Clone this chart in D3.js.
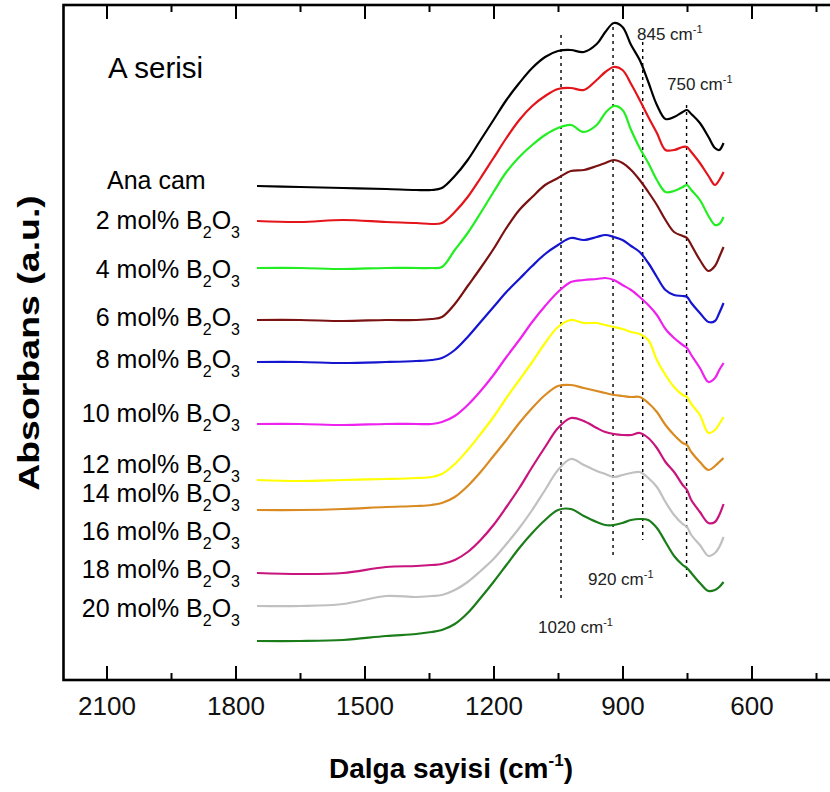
<!DOCTYPE html>
<html lang="en">
<head>
<meta charset="utf-8">
<title>A serisi - FTIR</title>
<script src="https://d3js.org/d3.v7.min.js"></script>
<style>
    body { margin: 0; background: #fff; }
    svg { display: block; font-family: "Liberation Sans", Arial, sans-serif; }
    .frame { fill: none; stroke: #000; stroke-width: 2.6px; }
    .spectrum { fill: none; stroke-width: 2.2px; stroke-linejoin: round; }
    .band { stroke: #000; stroke-width: 1.4px; stroke-dasharray: 3, 4; }
    .axis line { stroke: #000; stroke-width: 2px; }
    .axis path { display: none; }
    .axis text { font-family: "Liberation Sans Narrow", "Arial Narrow", sans-serif; font-size: 26px; fill: #111; }
</style>
</head>
<body>
<svg width="830" height="792"></svg>
<script>
// wavenumber grid (cm-1) shared by all spectra
var wavenumbers = [1750, 1650, 1550, 1450, 1380, 1344, 1320, 1290, 1260, 1230, 1200, 1170, 1140, 1110, 1080, 1050,
    1020, 990, 960, 940, 920, 900, 880, 860, 840, 820, 800, 780, 760, 750, 740, 720, 700, 685, 675, 665];

// absorbance (a.u., stacked as in the figure)
var anaCam = [4.94, 4.93, 4.92, 4.91, 4.90, 4.90, 4.92, 5.04, 5.20, 5.40, 5.60, 5.80, 5.97, 6.12, 6.23, 6.29,
    6.30, 6.28, 6.36, 6.48, 6.57, 6.53, 6.35, 6.20, 5.98, 5.75, 5.61, 5.63, 5.68, 5.70, 5.66, 5.57, 5.43, 5.32, 5.30, 5.37];
var mol2 = [4.59, 4.58, 4.60, 4.58, 4.57, 4.56, 4.57, 4.68, 4.83, 5.02, 5.22, 5.42, 5.60, 5.74, 5.84, 5.91,
    5.92, 5.90, 6.00, 6.08, 6.13, 6.10, 5.96, 5.80, 5.63, 5.47, 5.30, 5.30, 5.33, 5.33, 5.28, 5.17, 5.04, 4.95, 5.00, 5.08];
var mol4 = [4.12, 4.12, 4.11, 4.12, 4.12, 4.12, 4.13, 4.30, 4.47, 4.67, 4.88, 5.08, 5.23, 5.35, 5.45, 5.52,
    5.55, 5.48, 5.55, 5.67, 5.74, 5.70, 5.50, 5.32, 5.17, 5.00, 4.88, 4.89, 4.93, 4.95, 4.90, 4.80, 4.64, 4.55, 4.56, 4.63];
var mol6 = [3.60, 3.60, 3.59, 3.60, 3.60, 3.61, 3.63, 3.76, 3.94, 4.12, 4.31, 4.52, 4.70, 4.83, 4.95, 5.02,
    5.09, 5.10, 5.14, 5.17, 5.20, 5.17, 5.10, 5.00, 4.88, 4.75, 4.60, 4.48, 4.44, 4.42, 4.35, 4.20, 4.09, 4.14, 4.23, 4.33];
var mol8 = [3.18, 3.18, 3.17, 3.18, 3.19, 3.20, 3.22, 3.30, 3.43, 3.58, 3.73, 3.88, 4.01, 4.14, 4.26, 4.35,
    4.42, 4.40, 4.43, 4.45, 4.43, 4.40, 4.34, 4.28, 4.17, 4.03, 3.90, 3.85, 3.84, 3.83, 3.77, 3.67, 3.58, 3.59, 3.67, 3.77];
var mol10 = [2.56, 2.56, 2.55, 2.56, 2.56, 2.56, 2.58, 2.64, 2.75, 2.89, 3.05, 3.23, 3.40, 3.58, 3.74, 3.88,
    3.98, 4.00, 4.01, 4.02, 4.00, 3.95, 3.90, 3.83, 3.75, 3.65, 3.51, 3.42, 3.35, 3.32, 3.25, 3.12, 2.98, 3.02, 3.10, 3.17];
var mol12 = [2.00, 1.99, 2.00, 2.01, 2.02, 2.03, 2.06, 2.16, 2.30, 2.46, 2.63, 2.82, 3.00, 3.18, 3.37, 3.53,
    3.60, 3.57, 3.57, 3.55, 3.53, 3.51, 3.48, 3.46, 3.40, 3.20, 3.05, 2.93, 2.85, 2.83, 2.76, 2.65, 2.47, 2.50, 2.56, 2.63];
var mol14 = [1.70, 1.70, 1.71, 1.73, 1.74, 1.75, 1.77, 1.83, 1.94, 2.08, 2.24, 2.40, 2.57, 2.72, 2.85, 2.94,
    2.95, 2.92, 2.89, 2.87, 2.85, 2.84, 2.83, 2.83, 2.77, 2.68, 2.55, 2.45, 2.37, 2.35, 2.28, 2.18, 2.10, 2.14, 2.18, 2.22];
var mol16 = [1.07, 1.06, 1.07, 1.13, 1.14, 1.15, 1.16, 1.20, 1.28, 1.40, 1.55, 1.73, 1.92, 2.13, 2.33, 2.52,
    2.62, 2.59, 2.52, 2.48, 2.46, 2.45, 2.45, 2.47, 2.42, 2.32, 2.18, 2.08, 1.95, 1.90, 1.80, 1.68, 1.57, 1.58, 1.65, 1.76];
var mol18 = [0.74, 0.74, 0.76, 0.84, 0.83, 0.84, 0.85, 0.90, 0.98, 1.09, 1.21, 1.36, 1.52, 1.70, 1.90, 2.10,
    2.21, 2.15, 2.09, 2.06, 2.03, 2.05, 2.07, 2.08, 2.02, 1.93, 1.78, 1.65, 1.56, 1.53, 1.45, 1.35, 1.24, 1.27, 1.33, 1.43];
var mol20 = [0.39, 0.39, 0.40, 0.44, 0.46, 0.48, 0.50, 0.56, 0.67, 0.82, 0.98, 1.15, 1.32, 1.47, 1.60, 1.70,
    1.71, 1.64, 1.58, 1.55, 1.55, 1.57, 1.60, 1.61, 1.60, 1.52, 1.38, 1.24, 1.15, 1.12, 1.07, 0.97, 0.89, 0.90, 0.93, 0.98];

var seriesNames = ["Ana cam", "2", "4", "6", "8", "10", "12", "14", "16", "18", "20"];
var seriesValues = [anaCam, mol2, mol4, mol6, mol8, mol10, mol12, mol14, mol16, mol18, mol20];
var seriesColors = ["#000000", "#e4141b", "#22ee22", "#7a1212", "#1515d0", "#ee22ee",
    "#ffff00", "#d98a20", "#c8147c", "#c0c0c0", "#1a7d1a"];

// marked bands: label and where the dotted guide sits
var bandLabels = ["1020", "920", "845", "750"];
var bandPositions = [1043, 922, 853, 751];
var bandTop = [6.45, 6.53, 6.38, 5.75];
var bandBottom = [0.80, 1.22, 1.40, 1.03];

var majorTicks = [2100, 1800, 1500, 1200, 900, 600];
var minorTicks = [1950, 1650, 1350, 1050, 750, 450];

var svg = d3.select("svg");

var x = d3.scaleLinear().domain([2200, 400]).range([63.5, 837.5]);
var y = d3.scaleLinear().domain([0, 6.75]).range([680, 5]);

// ticks, pointing inwards on top and bottom
svg.append("g").attr("class", "axis").attr("transform", "translate(0,680)")
    .call(d3.axisBottom(x).tickValues(majorTicks).tickSizeInner(-14).tickSizeOuter(0)
        .tickPadding(17).tickFormat(d3.format("d")));
svg.append("g").attr("class", "axis").attr("transform", "translate(0,680)")
    .call(d3.axisBottom(x).tickValues(minorTicks).tickSizeInner(-7).tickSizeOuter(0).tickFormat(""));
svg.append("g").attr("class", "axis").attr("transform", "translate(0,5)")
    .call(d3.axisTop(x).tickValues(majorTicks).tickSizeInner(-14).tickSizeOuter(0).tickFormat(""));
svg.append("g").attr("class", "axis").attr("transform", "translate(0,5)")
    .call(d3.axisTop(x).tickValues(minorTicks).tickSizeInner(-7).tickSizeOuter(0).tickFormat(""));

svg.append("rect").attr("class", "frame")
    .attr("x", x(2200)).attr("y", y(6.75))
    .attr("width", x(400) - x(2200)).attr("height", y(0) - y(6.75));

// dotted band guides
svg.selectAll(".band").data(bandPositions).enter().append("line")
    .attr("class", "band")
    .attr("x1", d => x(d)).attr("x2", d => x(d))
    .attr("y1", (d, i) => y(bandTop[i])).attr("y2", (d, i) => y(bandBottom[i]));

var line = d3.line()
    .x(d => x(d[0]))
    .y(d => y(d[1]))
    .curve(d3.curveCatmullRom.alpha(0.5));

svg.selectAll(".spectrum").data(seriesValues).enter().append("path")
    .attr("class", "spectrum")
    .attr("stroke", (d, i) => seriesColors[i])
    .attr("d", d => line(d.map((v, j) => [wavenumbers[j], v])));

// sample labels on the left
var labelBaselines = [189, 229, 278, 326, 368, 422, 473, 502, 540, 578, 617];
seriesNames.forEach(function(name, i) {
    var t = svg.append("text").attr("y", labelBaselines[i]).style("font-size", "25px").attr("fill", "#000");
    if (i == 0) {
        t.attr("x", 107).text(name);
        return;
    }
    t.attr("x", 240).attr("text-anchor", "end").text(name + " mol% B");
    t.append("tspan").attr("dy", 9).style("font-size", "16px").text("2");
    t.append("tspan").attr("dy", -9).text("O");
    t.append("tspan").attr("dy", 9).style("font-size", "16px").text("3");
});

svg.append("text").attr("x", 108).attr("y", 78).style("font-size", "29.5px").text("A serisi");

// band annotations
var bandText = [[538, 633], [588, 585], [637, 40], [667, 90]];
bandLabels.forEach(function(b, i) {
    var t = svg.append("text").attr("x", bandText[i][0]).attr("y", bandText[i][1])
        .style("font-size", "17px").attr("fill", "#222").text(b + " cm");
    t.append("tspan").attr("dy", -7).style("font-size", "11px").text("-1");
});

// axis titles
var xt = svg.append("text").attr("x", 451).attr("y", 778).attr("text-anchor", "middle")
    .style("font-size", "28px").style("font-weight", "bold").text("Dalga sayisi (cm");
xt.append("tspan").attr("dy", -12).style("font-size", "17px").text("-1");
xt.append("tspan").attr("dy", 12).text(")");

// the source figure is stretched vertically, so the rotated title runs long
svg.append("text").attr("transform", "translate(39,343) rotate(-90) scale(1.25,1)").attr("text-anchor", "middle")
    .style("font-size", "30px").style("font-weight", "bold").text("Absorbans (a.u.)");
</script>
</body>
</html>
